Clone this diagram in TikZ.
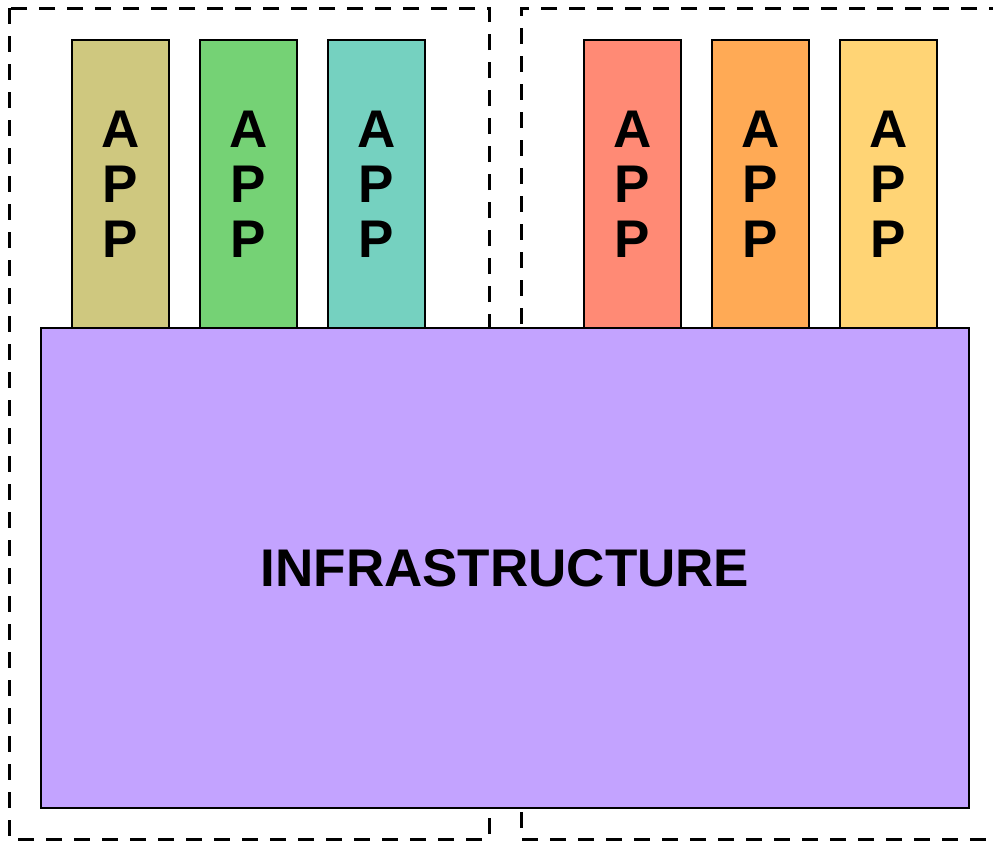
\documentclass[tikz,border=0pt]{standalone}
\usepackage{fontspec}
\setmainfont{Liberation Sans}
\definecolor{appolive}{RGB}{207,200,127}
\definecolor{appgreen}{RGB}{117,210,117}
\definecolor{appteal}{RGB}{117,209,192}
\definecolor{appsalmon}{RGB}{255,138,117}
\definecolor{apporange}{RGB}{255,170,85}
\definecolor{appyellow}{RGB}{255,212,117}
\definecolor{infrapurple}{RGB}{195,163,255}
\tikzset{
  appbox/.style={draw=black, line width=2.6pt, minimum width=97pt, minimum height=288pt,
    inner sep=0pt, align=center, font=\bfseries\fontsize{53}{55}\selectfont},
  infrabox/.style={draw=black, line width=2.6pt, fill=infrapurple, minimum width=928pt,
    minimum height=480pt, inner sep=0pt, font=\bfseries\fontsize{53}{60}\selectfont},
  groupline/.style={draw=black, line width=3pt, dash pattern=on 16pt off 12pt}
}
\begin{document}
\begin{tikzpicture}[x=1pt,y=-1pt]
\clip (0,0) rectangle (993,844);
\fill[white] (0,0) rectangle (993,844);
% group boxes
\draw[groupline] (9,8) rectangle (489,839);
\draw[groupline] (1005,8) -- (521,8) -- (521,839) -- (1005,839);
% apps
\node[appbox, fill=appolive] (app1) at (120.5,184) {A\\P\\P};
\node[appbox, fill=appgreen] (app2) at (248.5,184) {A\\P\\P};
\node[appbox, fill=appteal] (app3) at (376.5,184) {A\\P\\P};
\node[appbox, fill=appsalmon] (app4) at (632.5,184) {A\\P\\P};
\node[appbox, fill=apporange] (app5) at (760.5,184) {A\\P\\P};
\node[appbox, fill=appyellow] (app6) at (888.5,184) {A\\P\\P};
% infrastructure
\node[infrabox] (infra) at (505,568) {INFRASTRUCTURE};
\end{tikzpicture}
\end{document}
